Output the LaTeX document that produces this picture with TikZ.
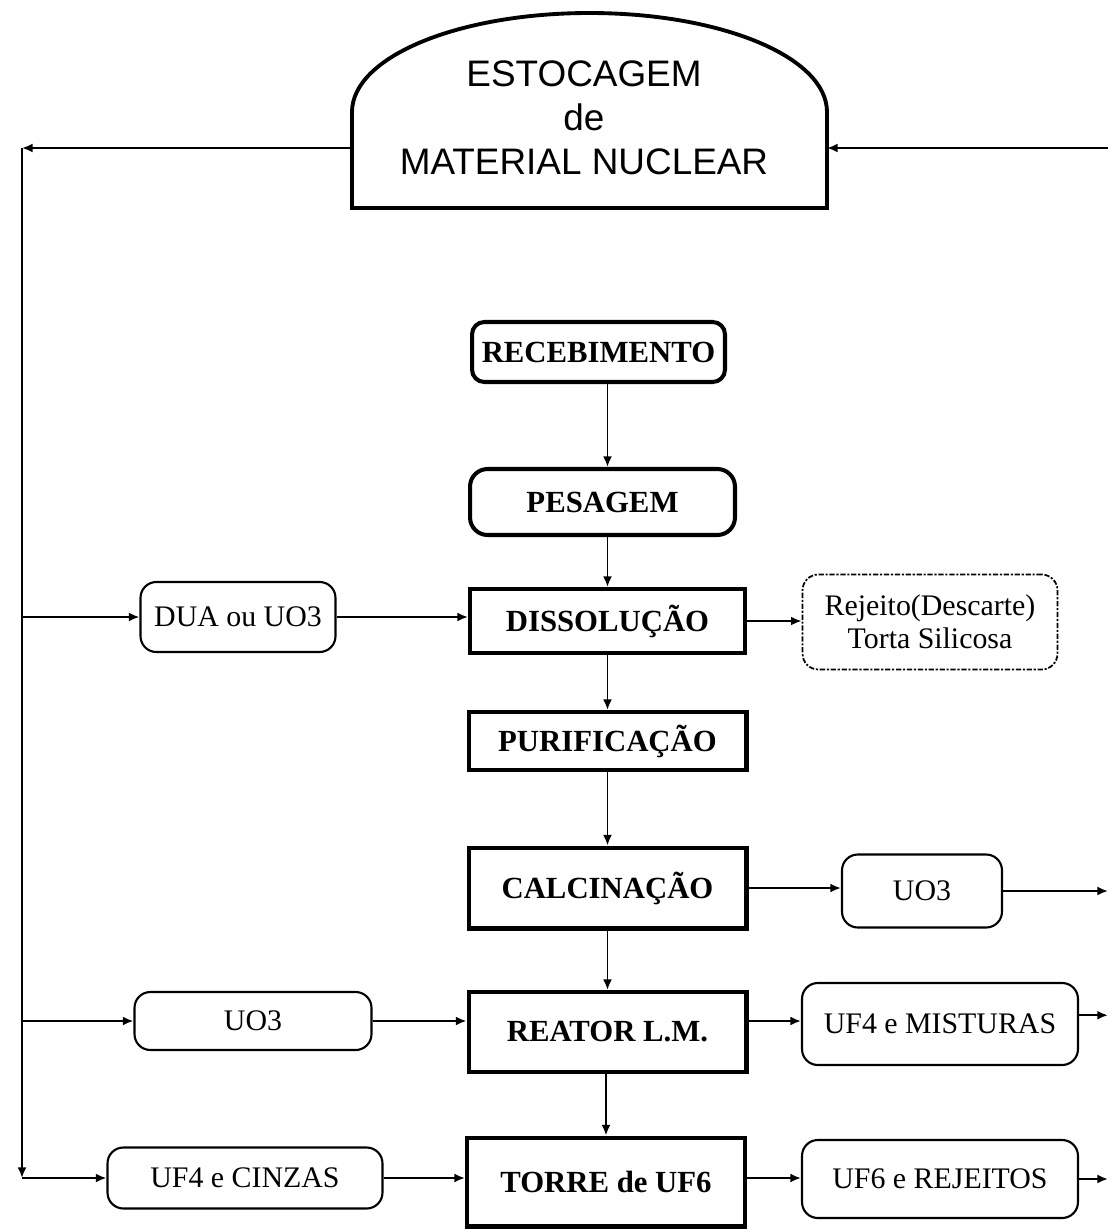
\documentclass[tikz,border=0pt]{standalone}
\usepackage{fontspec}
\setmainfont{Liberation Serif}
\newfontfamily\domefont{Liberation Sans}
\usetikzlibrary{arrows.meta}

\begin{document}
\begin{tikzpicture}[x=0.02cm,y=-0.02cm,
	>={Latex[length=6pt,width=5pt]},
	conn/.style={line width=1.1pt},
	stepbox/.style={draw,line width=2.3pt,inner sep=0pt,font=\fontsize{17.5}{20}\selectfont\bfseries},
	roundstep/.style={stepbox,rounded corners=7pt},
	outbox/.style={draw,line width=1.2pt,rounded corners=9pt,inner sep=0pt,font=\fontsize{17}{20}\selectfont},
	wastebox/.style={outbox,densely dashdotted,line width=1pt,align=center,font=\fontsize{17}{18.5}\selectfont}]

	\useasboundingbox (0,0) rectangle (1110,1231);

	% storage dome
	\draw [line width=2.2pt] (352,208) -- (352,112) .. controls (352,57) and (458,13) .. (589.5,13)
		.. controls (721,13) and (827,57) .. (827,112) -- (827,208) -- cycle;
	\node (stock) [align=center,font=\domefont\fontsize{21}{25}\selectfont] at (584,118) {ESTOCAGEM\\de\\MATERIAL NUCLEAR};
	\coordinate (domeW) at (352,148);
	\coordinate (domeE) at (827,148);
	\coordinate (nw) at (22,148);
	\coordinate (sw) at (22,1178);
	\coordinate (eastline) at (1108,148);

	% process column
	\node (receb) [roundstep,minimum width=5.06cm,minimum height=1.2cm] at (598.5,352) {RECEBIMENTO};
	\node (pesag) [roundstep,rounded corners=10pt,minimum width=5.3cm,minimum height=1.32cm] at (602.5,502) {PESAGEM};
	\node (dissol) [stepbox,minimum width=5.5cm,minimum height=1.28cm] at (607.5,621) {DISSOLUÇÃO};
	\node (purif) [stepbox,minimum width=5.56cm,minimum height=1.16cm] at (607.5,741) {PURIFICAÇÃO};
	\node (calcin) [stepbox,minimum width=5.56cm,minimum height=1.62cm] at (607.5,888) {CALCINAÇÃO};
	\node (reator) [stepbox,minimum width=5.56cm,minimum height=1.6cm] at (607.5,1032) {REATOR L.M.};
	\node (torre) [stepbox,minimum width=5.56cm,minimum height=1.78cm] at (606,1182) {TORRE de UF6};

	% side boxes
	\node (dua) [outbox,minimum width=3.9cm,minimum height=1.4cm] at (238,617) {DUA ou UO3};
	\node (rejeito) [wastebox,minimum width=5.1cm,minimum height=1.9cm] at (930,622) {Rejeito(Descarte)\\Torta Silicosa};
	\node (uo3r) [outbox,minimum width=3.2cm,minimum height=1.46cm] at (922,891) {UO3};
	\node (uo3l) [outbox,minimum width=4.74cm,minimum height=1.16cm] at (253,1021) {UO3};
	\node (mistur) [outbox,minimum width=5.52cm,minimum height=1.64cm] at (940,1024) {UF4 e MISTURAS};
	\node (cinzas) [outbox,minimum width=5.5cm,minimum height=1.22cm] at (245,1178) {UF4 e CINZAS};
	\node (rejeitos) [outbox,minimum width=5.52cm,minimum height=1.56cm] at (940,1179) {UF6 e REJEITOS};

	% main flow
	\draw [conn,->] (receb.south -| dissol) -- (pesag.north -| dissol);
	\draw [conn,->] (pesag.south -| dissol) -- (dissol.north);
	\draw [conn,->] (dissol) -- (purif);
	\draw [conn,->] (purif) -- (calcin);
	\draw [conn,->] (calcin) -- (reator);
	\draw [conn,->] (reator.south -| torre) -- (torre.north);

	% side flows
	\draw [conn,->] (dua.east) -- (dua.east -| dissol.west);
	\draw [conn,->] (dissol.east) -- (dissol.east -| rejeito.west);
	\draw [conn,->] (calcin.east) -- (calcin.east -| uo3r.west);
	\draw [conn,->] (uo3l.east) -- (uo3l.east -| reator.west);
	\draw [conn,->] (reator.east |- uo3l) -- (mistur.west |- uo3l);
	\draw [conn,->] (cinzas.east) -- (cinzas.east -| torre.west);
	\draw [conn,->] (torre.east |- cinzas) -- (rejeitos.west |- cinzas);

	% return lines
	\draw [conn,->] (uo3r.east) -- (uo3r.east -| eastline);
	\draw [conn,->] ([yshift=5pt]mistur.east) -- ([yshift=5pt]mistur.east -| eastline);
	\draw [conn,->] (rejeitos.east) -- (rejeitos.east -| eastline);
	\draw [conn,->] (eastline) -- (domeE);
	\draw [conn,->] (domeW) -- (nw);
	\draw [conn,->] (nw) -- (sw);
	\draw [conn,->] (nw |- dua) -- (dua);
	\draw [conn,->] (nw |- uo3l) -- (uo3l);
	\draw [conn,->] (sw) -- (cinzas);

\end{tikzpicture}
\end{document}
